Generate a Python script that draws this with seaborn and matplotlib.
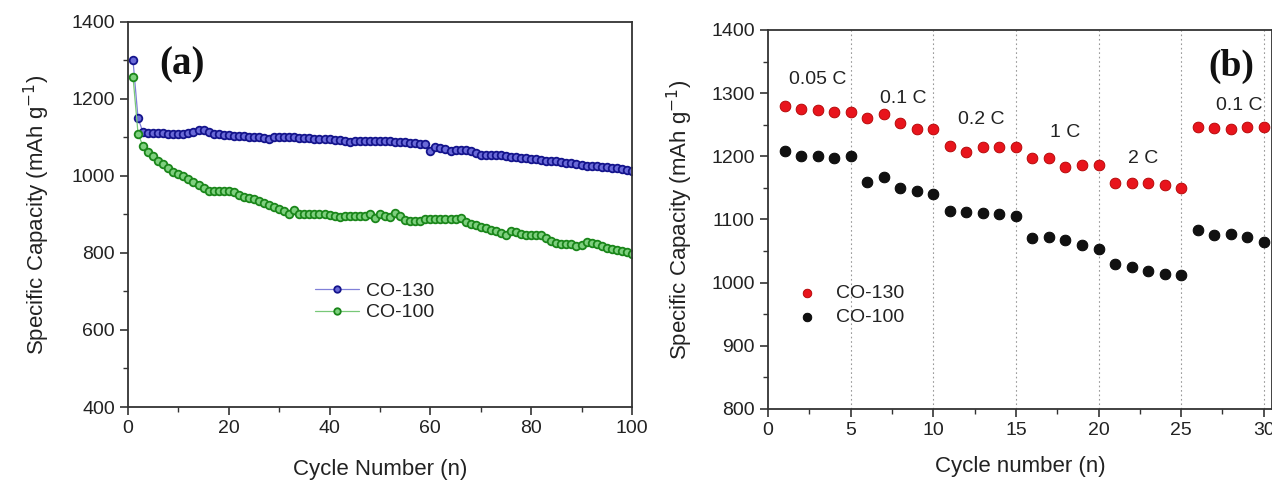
import numpy as np
import pandas as pd
import matplotlib
matplotlib.use("Agg")
import matplotlib.pyplot as plt
from matplotlib.ticker import MultipleLocator
import seaborn as sns

# Data - panel (a) cycling
cycles_a = list(range(1, 101))
co130_a = [1300, 1150, 1113, 1112, 1112, 1111, 1111, 1110, 1110, 1109,
           1110, 1112, 1115, 1120, 1120, 1115, 1110, 1108, 1107, 1106,
           1105, 1104, 1103, 1102, 1101, 1100, 1098, 1097, 1101, 1102,
           1101, 1100, 1100, 1099, 1099, 1098, 1097, 1096, 1095, 1095,
           1094, 1093, 1092, 1088, 1090, 1091, 1091, 1092, 1092, 1091,
           1090, 1090, 1089, 1088, 1087, 1086, 1085, 1084, 1083, 1065,
           1075, 1073, 1070, 1066, 1067, 1068, 1067, 1064, 1060, 1055,
           1055, 1055, 1055, 1054, 1053, 1050, 1049, 1048, 1046, 1044,
           1043, 1042, 1040, 1039, 1038, 1037, 1035, 1033, 1031, 1029,
           1027, 1026, 1025, 1024, 1023, 1022, 1021, 1019, 1016, 1013]
co100_a = [1258, 1110, 1077, 1062, 1052, 1040, 1030, 1020, 1010, 1005,
           1000, 993, 985, 977, 968, 962, 962, 962, 962, 962,
           958, 950, 946, 944, 940, 935, 930, 925, 920, 915,
           910, 900, 912, 902, 900, 900, 900, 900, 900, 899,
           896, 893, 895, 895, 895, 895, 895, 902, 892, 900,
           897, 893, 903, 895, 885, 882, 882, 882, 887, 887,
           887, 887, 887, 887, 887, 890, 880, 876, 872, 868,
           864, 860, 856, 852, 848, 858, 854, 850, 846, 846,
           846, 846, 840, 832, 826, 824, 824, 824, 818, 820,
           828, 826, 823, 818, 814, 810, 808, 806, 802, 798]

# Data - panel (b) rate performance
cycles_b = list(range(1, 31))
co130_b = [1280, 1275, 1273, 1270, 1270, 1261, 1267, 1253, 1243, 1243,
           1217, 1207, 1214, 1214, 1214, 1197, 1197, 1183, 1187, 1187,
           1157, 1157, 1157, 1154, 1150, 1247, 1245, 1244, 1247, 1247]
co100_b = [1208, 1201, 1201, 1198, 1201, 1160, 1168, 1150, 1145, 1140,
           1113, 1112, 1110, 1108, 1105, 1071, 1073, 1067, 1060, 1054,
           1029, 1024, 1018, 1013, 1012, 1083, 1076, 1077, 1072, 1064]
rate_labels = ["0.05 C", "0.1 C", "0.2 C", "1 C", "2 C", "0.1 C"]
rate_label_x = [3.0, 8.2, 12.9, 18.0, 22.7, 28.5]
rate_label_y = [1322, 1291, 1259, 1237, 1196, 1281]
rate_bounds = [5, 10, 15, 20, 25, 30]

sns.set_theme(style="ticks")
plt.rcParams["font.family"] = ["Liberation Sans", "DejaVu Sans"]
plt.rcParams["text.color"] = "#222222"
plt.rcParams["axes.labelcolor"] = "#222222"

fig = plt.figure(figsize=(12.72, 4.82), dpi=100)
ax1 = fig.add_axes([0.1006, 0.1556, 0.3962, 0.7988])
ax2 = fig.add_axes([0.6038, 0.1515, 0.3962, 0.7863])

blue = "#14148c"
green = "#1a861a"

df_a = pd.DataFrame({"cycle": cycles_a, "CO-130": co130_a, "CO-100": co100_a})
sns.lineplot(data=df_a, x="cycle", y="CO-130", ax=ax1, color="#8080d8",
             linewidth=0.9, marker="o", markersize=5.5,
             markerfacecolor="#6a6ad8", markeredgecolor=blue,
             markeredgewidth=1.3, label="CO-130")
sns.lineplot(data=df_a, x="cycle", y="CO-100", ax=ax1, color="#78c878",
             linewidth=0.9, marker="o", markersize=5.5,
             markerfacecolor="#7ed07e", markeredgecolor=green,
             markeredgewidth=1.3, label="CO-100")

ax1.set_xlim(0, 100)
ax1.set_ylim(400, 1400)
ax1.xaxis.set_major_locator(MultipleLocator(20))
ax1.xaxis.set_minor_locator(MultipleLocator(10))
ax1.yaxis.set_major_locator(MultipleLocator(200))
ax1.yaxis.set_minor_locator(MultipleLocator(100))
ax1.set_xlabel("Cycle Number (n)", fontsize=16, labelpad=16)
ax1.set_ylabel("Specific Capacity (mAh g$^{-1}$)", fontsize=16, labelpad=14)
ax1.text(0.063, 0.888, "(a)", transform=ax1.transAxes, fontsize=28,
         fontweight="bold", family=["Liberation Serif", "DejaVu Serif"],
         va="center", ha="left", color="#111111")
ax1.legend(loc="center left", bbox_to_anchor=(0.351, 0.273),
           frameon=False, fontsize=14, handlelength=2.3, borderpad=0,
           handletextpad=0.35, labelspacing=0.2, markerscale=0.85)

df_b = pd.DataFrame({"cycle": cycles_b, "CO-130": co130_b, "CO-100": co100_b})
for xb in rate_bounds:
    ax2.axvline(xb, color="#999999", linestyle=(0, (1.5, 2.5)),
                linewidth=0.8, zorder=0)
sns.scatterplot(data=df_b, x="cycle", y="CO-130", ax=ax2, color="#e8141c",
                s=60, edgecolor="#b00000", linewidth=0.6, label="CO-130",
                zorder=3)
sns.scatterplot(data=df_b, x="cycle", y="CO-100", ax=ax2, color="#111111",
                s=60, edgecolor="#000000", linewidth=0.6, label="CO-100",
                zorder=3)
for txt, tx, ty in zip(rate_labels, rate_label_x, rate_label_y):
    ax2.text(tx, ty, txt, fontsize=14, ha="center", va="center")
ax2.text(0.965, 0.905, "(b)", transform=ax2.transAxes, fontsize=27,
         fontweight="bold", family=["Liberation Serif", "DejaVu Serif"],
         va="center", ha="right", color="#111111")

ax2.set_xlim(0, 30.5)
ax2.set_ylim(800, 1400)
ax2.xaxis.set_major_locator(MultipleLocator(5))
ax2.xaxis.set_minor_locator(MultipleLocator(2.5))
ax2.yaxis.set_major_locator(MultipleLocator(100))
ax2.yaxis.set_minor_locator(MultipleLocator(50))
ax2.set_xlabel("Cycle number (n)", fontsize=16, labelpad=12)
ax2.set_ylabel("Specific Capacity (mAh g$^{-1}$)", fontsize=16, labelpad=12)
ax2.legend(loc="center left", bbox_to_anchor=(0.02, 0.274),
           frameon=False, fontsize=14, borderpad=0, handlelength=2.0,
           handletextpad=0.5, labelspacing=0.3, markerscale=0.8)

for ax in (ax1, ax2):
    for sp in ax.spines.values():
        sp.set_color("#333333")
        sp.set_linewidth(1.3)
    ax.tick_params(which="major", direction="out", length=6, width=1.2,
                   labelsize=14, colors="#333333", labelcolor="#222222")
    ax.tick_params(which="minor", direction="out", length=3.5, width=1.0,
                   colors="#333333")
    ax.grid(False)

fig.savefig("out.png", dpi=100)
